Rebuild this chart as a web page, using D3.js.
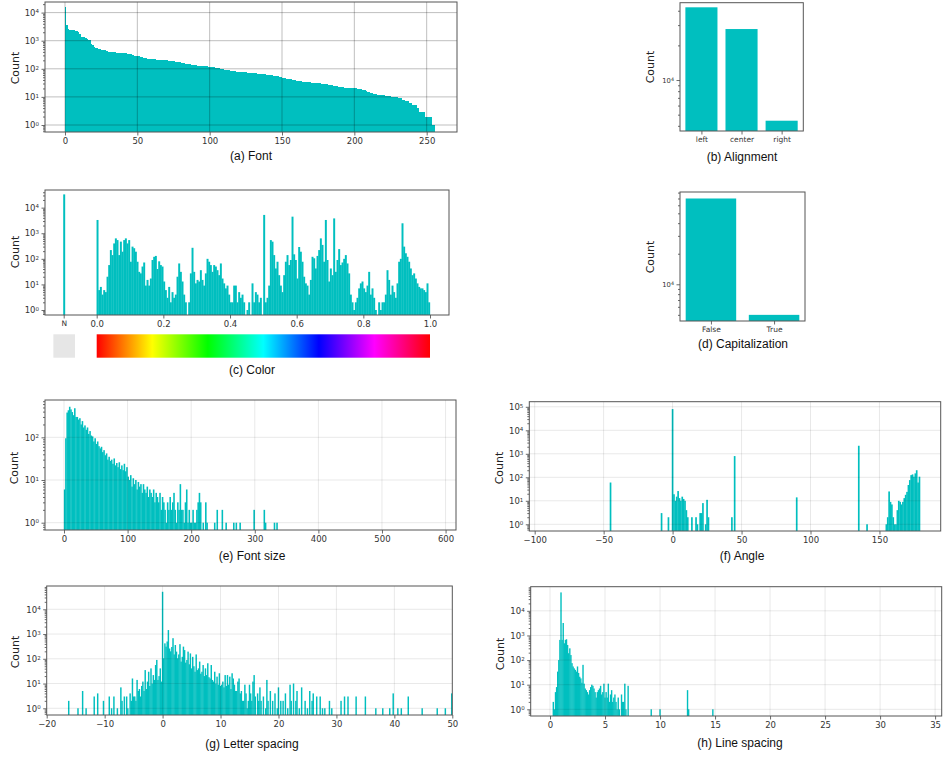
<!DOCTYPE html>
<html><head><meta charset="utf-8">
<script src="https://cdn.jsdelivr.net/npm/d3@7"></script>
<style>body{margin:0;background:#fff}svg{display:block}</style>
</head><body>
<script>
// ---------------- DATA ----------------
// (a) Font: count per font id (sorted), bin width 1
const fontCounts = [15500,3500,2700,2500,2450,2400,2350,2300,2250,2100,1700,1400,1350,1300,1200,1150,1100,1050,750,680,
600,570,550,520,500,480,470,455,440,420,405,400,395,390,385,378,372,368,365,362,
360,358,355,345,335,325,315,305,295,288,282,275,268,260,250,242,235,230,226,222,
220,218,216,214,212,210,208,205,202,200,198,196,194,190,186,182,178,175,172,170,
166,162,158,154,150,147,144,141,138,135,132,130,128,127,126,125,124,122,121,120,
118,116,114,112,110,108,105,102,99,96,94,92,90,88,86,84,82,81,80,79,
78,77,76,75,74,74,73,73,72,72,71,70,69,68,67,66,65,64,63,62,
61,60,59,58,57,56,55,54,52,50,48,47,46,45,44,43,42,41,40,39,
38,37,37,36,35,35,34,34,33,33,32,32,31,31,30,30,30,29,29,29,
28,28,27,27,26,25,25,24,24,23,23,22,22,21,21,21,21,20,20,20,
20,20,19,19,19,18,18,17,16,15,15,14,14,13,13,13,12,12,12,12,
12,11,11,11,11,10,10,10,10,10,9,9,9,8,8,7,7,7,6,6,
5,5,5,4,4,3,3,3,3,2,2,2,2,2,1,1];
const fontTicks = [0,50,100,150,200,250];

// (b) Alignment
const alignCats = ["left","center","right"];
const alignCounts = [42850, 27740, 4430];

// (d) Capitalization
const capCats = ["False","True"];
const capCounts = [70000, 5000];

// (c) Color (hue), bin width 0.005 from 0 to 1, plus the "N" (no colour) bin
const colorNullCount = 33000;
const colorNullPos = -0.0975;
const colorBinWidth = 0.005;
const colorCounts = [3300,6,8,4,6,5,20,57,220,140,400,630,540,140,470,190,540,630,400,540,
77,300,260,190,77,31,27,50,72,9,15,9,17,90,120,130,40,80,57,50,
13,6,3,8,2,5,3,4,20,66,31,13,4,2,0,2,27,270,31,11,
15,13,36,15,9,27,100,77,57,31,57,50,36,23,66,17,11,7,9,4,
2,2,9,9,2,5,3,4,2,0,1,2,0,11,2,5,4,2,3,0,
5200,2,3,9,540,470,140,42,77,23,9,5,23,77,140,57,90,4450,150,90,
17,290,190,77,20,11,9,4,15,120,105,42,130,220,630,350,77,3300,90,13,
42,23,3800,31,90,240,57,72,100,140,66,27,4,2,1,2,3,7,11,13,
7,5,9,31,4,7,3,1,0,2,1,2,2,4,36,15,4,9,5,3,
11,77,100,2450,300,165,120,77,42,23,27,17,11,8,7,7,6,5,11,2];
const colorTicks = [0,0.2,0.4,0.6,0.8,1.0];

// (e) Font size, bin width 2 from 0, plus sparse outliers [value, count]
const fontSizeBinWidth = 2;
const fontSizeCounts = [6,95,380,430,520,450,390,330,480,300,
300,260,280,200,240,170,190,150,170,120,
140,110,105,80,95,70,80,62,55,60,
45,50,38,42,30,35,28,30,24,32,
22,25,20,26,18,22,17,24,16,20,
12,10,13,7,11,8,10,6,9,7,
8,5,8,6,5,7,4,6,5,4,
6,3,5,4,3,5,2,4,3,2,
1,3,2,4,2,3,5,2,1,3,
2,8,2,2,1,3,6,1,2,1,
1,2,1,1,2,3,5,3,0,1,
0,3,1];
const fontSizeOutliers = [[236,1],[240,2],[248,2],[254,1],[266,1],[270,1],[276,1],[298,2],[314,2],[316,1],[330,1],[334,1]];
const fontSizeTicks = [0,100,200,300,400,500,600];

// (f) Angle, bin width 1, sparse [angle, count]
const angleBins = [[-45,60],[-8,3],[-3,2],[0,80000],[1,19],[2,10],[3,15],[4,26],[5,13],[6,10],[7,15],[8,12],[9,10],[10,4],[11,2],
[14,2],[17,2],[18,1],[20,3],[21,3],[22,8],[24,1],[25,11],[26,2],[43,2],[45,800],[90,14],[135,2200],[141,1],
[155,1],[156,2],[157,25],[158,9],[159,7],[160,2],[161,1],[162,1],[163,4],[164,10],[165,9],[166,7],[167,9],[168,13],
[169,18],[170,24],[171,47],[172,76],[173,124],[174,133],[175,106],[176,147],[177,200],[178,60],[179,106]];
const angleTicks = [-100,-50,0,50,100,150];

// (g) Letter spacing, bin width 0.2; dense core from -3.6 plus sparse tails
const letterBinWidth = 0.2;
const letterCoreStart = -3.6;
const letterCore = [8,12,5,35,6,12,30,8,41,10,22,14,56,90,14,20,41,12,
51000,
105,420,310,500,1450,260,200,300,680,150,
360,195,105,150,390,77,120,310,225,70,
90,195,60,165,41,120,50,30,150,35,
41,77,25,30,56,20,41,22,66,18,
16,56,14,12,30,10,19,9,26,8,
9,12,7,22,8,22,9,19,6,26,
16,9,5,5,12,16,4,5,2,2,
9,4,1,2,9,4,2,12,22,3];
const letterTails = [[-16.2,2],[-14.6,1],[-13.8,5],[-13.2,1],[-11.8,3],[-11.2,4],[-10.2,2],[-9.2,3],[-8.8,1],[-8.4,3],[-7.8,1],
[-7.2,7],[-7.0,2],[-6.6,3],[-6.2,3],[-6.0,1],[-5.6,4],[-5.4,2],[-5.2,16],[-5.0,3],[-4.8,3],[-4.6,2],[-4.4,14],[-4.2,5],[-4.0,6],[-3.8,3],
[16.4,4],[16.6,2],[16.8,7],[17.0,2],[17.4,3],[17.8,1],[18.0,14],[18.2,2],[18.6,5],[19.0,2],[19.4,4],[19.8,1],[20.0,7],[20.4,2],
[20.8,2],[21.2,4],[21.6,1],[22.0,9],[22.2,2],[22.6,10],[23.0,2],[23.2,5],[23.6,1],[24.0,7],[24.6,2],[25.0,1],[25.4,5],[25.8,2],
[26.0,4],[26.6,3],[27.2,3],[27.6,1],[28.0,1],[28.8,2],[29.2,1],[30.8,2],[31.4,3],[32.0,3],[33.4,3],[35.0,3],[36.8,1],[38.0,1],
[39.2,1],[39.8,4],[40.6,1],[41.2,1],[42.4,3],[44.8,1],[47.4,1],[48.8,1],[49.9,4]];
const letterTicks = [-20,-10,0,10,20,30,40,50];

// (h) Line spacing, bin width 0.1; dense core from 0.2 plus sparse outliers
const lineBinWidth = 0.1;
const lineCoreStart = 0.2;
const lineCore = [0,2,1,5,8,34,100,660,56000,660,
3200,480,660,700,410,190,300,160,75,55,
46,40,34,55,30,21,18,12,64,11,
7,6,5,4,6,8,10,9,7,5,
3,5,6,7,9,4,5,11,3,5,
3,11,2,4,6,2,3,4,2,1,
3,1,0,4,2,2,11,1,0,9];
const lineOutliers = [[9.2,1],[10.0,1],[12.5,6],[12.6,1],[14.8,1]];
const lineTicks = [0,5,10,15,20,25,30,35];

// ---------------- DRAWING ----------------
const BAR = "#00bfbf";
const svg = d3.select("body").append("svg").attr("width",952).attr("height",757);
const defs = svg.append("defs");
let clipN = 0;

function styleAxis(sel, fs, color) {
  sel.select(".domain").remove();
  sel.selectAll(".tick line").attr("stroke","#444").attr("stroke-width",0.8);
  sel.selectAll(".tick text").attr("font-family","DejaVu Sans").attr("font-size",fs).attr("fill",color||"#333");
}

function logYAxis(g, y, left, fs, sup) {
  const [d0,d1] = y.domain();
  const majors=[], minors=[];
  for (let e=Math.floor(Math.log10(d0))-1; e<=Math.ceil(Math.log10(d1)); e++) {
    const v = Math.pow(10,e);
    if (v>=d0 && v<=d1) majors.push(v);
    for (let m=2;m<=9;m++){ const mv=m*v; if (mv>=d0 && mv<=d1) minors.push(mv); }
  }
  g.append("g").attr("transform",`translate(${left},0)`)
    .call(d3.axisLeft(y).tickValues(minors).tickSize(2).tickFormat(()=>""))
    .call(s=>styleAxis(s,fs));
  const ma = g.append("g").attr("transform",`translate(${left},0)`)
    .call(d3.axisLeft(y).tickValues(majors).tickSize(3.5).tickPadding(2.5).tickFormat(()=>""))
    .call(s=>styleAxis(s,fs));
  ma.selectAll(".tick text").each(function(d){
    const t=d3.select(this); t.text(null);
    t.append("tspan").text("10");
    t.append("tspan").attr("dy","-0.45em").attr("font-size",sup).text(Math.round(Math.log10(d)));
  });
  return majors;
}

function countLabel(x,y){
  svg.append("text").attr("transform",`translate(${x},${y}) rotate(-90)`)
    .attr("text-anchor","middle").attr("dominant-baseline","central")
    .attr("font-family","DejaVu Sans").attr("font-size",11).attr("fill","#222").text("Count");
}
function title(x,y,s){
  svg.append("text").attr("x",x).attr("y",y).attr("text-anchor","middle").attr("dominant-baseline","central")
    .attr("font-family","Liberation Sans, Arial, sans-serif").attr("font-size",12).attr("fill","#111").text(s);
}

function histPanel(o){
  const g = svg.append("g");
  const x = d3.scaleLinear().domain(o.xDomain).range([o.left,o.right]);
  const y = d3.scaleLog().domain(o.yDomain).range([o.bottom,o.top]);
  const id = "clip"+(clipN++);
  defs.append("clipPath").attr("id",id).append("rect")
    .attr("x",o.left).attr("y",o.top).attr("width",o.right-o.left).attr("height",o.bottom-o.top);
  const extra = o.solid ? 0 : 0.3;
  g.append("g").attr("clip-path",`url(#${id})`)
    .attr("shape-rendering", o.solid ? "crispEdges" : "auto")
    .selectAll("rect")
    .data(o.bars.filter(d=>d.v>0)).join("rect")
    .attr("x",d=>x(d.a)-extra/2).attr("width",d=>Math.max(0.01,x(d.b)-x(d.a)+extra))
    .attr("y",d=>y(d.v)).attr("height",d=>Math.max(0,o.bottom+2-y(d.v)))
    .attr("fill",BAR);
  // axes
  g.append("g").attr("transform",`translate(0,${o.bottom})`)
    .call(d3.axisBottom(x).tickValues(o.xTicks).tickSize(3.5).tickPadding(2.5).tickFormat(o.xFmt||d3.format("d")))
    .call(s=>styleAxis(s,8.5));
  const majors = logYAxis(g,y,o.left,8.5,5.5);
  // grid
  if (o.grid) {
    const gg = g.append("g").attr("stroke","#000").attr("stroke-opacity",o.grid).attr("stroke-width",1);
    o.xTicks.filter(v=>x(v)>o.left+0.5 && x(v)<o.right-0.5).forEach(v=>
      gg.append("line").attr("x1",x(v)).attr("x2",x(v)).attr("y1",o.top).attr("y2",o.bottom));
    majors.forEach(v=>gg.append("line").attr("x1",o.left).attr("x2",o.right).attr("y1",y(v)).attr("y2",y(v)));
  }
  g.append("rect").attr("x",o.left).attr("y",o.top).attr("width",o.right-o.left).attr("height",o.bottom-o.top)
    .attr("fill","none").attr("stroke","#555").attr("stroke-width",1);
  countLabel(o.countX,o.countY);
  title(o.titleX,o.titleY,o.title);
  return {x,y,g};
}

function catPanel(o){
  const g = svg.append("g");
  const n = o.cats.length;
  const x = d3.scaleLinear().domain(o.xDomain).range([o.left,o.right]);
  const y = d3.scaleLog().domain(o.yDomain).range([o.bottom,o.top]);
  const id = "clip"+(clipN++);
  defs.append("clipPath").attr("id",id).append("rect")
    .attr("x",o.left).attr("y",o.top).attr("width",o.right-o.left).attr("height",o.bottom-o.top);
  g.append("g").attr("clip-path",`url(#${id})`).selectAll("rect")
    .data(o.counts).join("rect")
    .attr("x",(d,i)=>x(i-0.4)).attr("width",(d,i)=>x(i+0.4)-x(i-0.4))
    .attr("y",d=>y(d)).attr("height",d=>o.bottom+2-y(d)).attr("fill",BAR);
  g.append("g").attr("transform",`translate(0,${o.bottom})`)
    .call(d3.axisBottom(x).tickValues(d3.range(n)).tickSize(3.5).tickPadding(2.5).tickFormat(i=>o.cats[i]))
    .call(s=>styleAxis(s,7.5));
  logYAxis(g,y,o.left,6.8,4.8);
  g.append("rect").attr("x",o.left).attr("y",o.top).attr("width",o.right-o.left).attr("height",o.bottom-o.top)
    .attr("fill","none").attr("stroke","#555").attr("stroke-width",1);
  countLabel(o.countX,o.countY);
  title(o.titleX,o.titleY,o.title);
}

// (a) Font
histPanel({left:45,right:457,top:2,bottom:132,solid:true,
  xDomain:[-13.82,270.96], yDomain:[Math.pow(10,-0.249),Math.pow(10,4.377)],
  bars: fontCounts.map((v,i)=>({a:i,b:i+1,v})), xTicks:fontTicks, grid:0.25,
  countX:15,countY:68,title:"(a) Font",titleX:251,titleY:156});

// (b) Alignment
catPanel({left:680,right:803.3,top:2.7,bottom:131,xDomain:[-0.534,2.54],
  yDomain:[Math.pow(10,3.557),Math.pow(10,4.672)],cats:alignCats,counts:alignCounts,
  countX:650,countY:67,title:"(b) Alignment",titleX:742,titleY:157});

// (c) Color
const colorBars = colorCounts.map((v,i)=>({a:i*colorBinWidth,b:(i+1)*colorBinWidth,v}));
colorBars.push({a:colorNullPos-colorBinWidth/2,b:colorNullPos+colorBinWidth/2,v:colorNullCount});
const pc = histPanel({left:45,right:449,top:190,bottom:315,
  xDomain:[-0.1551,1.057], yDomain:[Math.pow(10,-0.195),Math.pow(10,4.69)],
  bars: colorBars, xTicks:colorTicks, xFmt:d3.format(".1f"), grid:0,
  countX:15,countY:252,title:"(c) Color",titleX:252,titleY:370});
// "N" tick
pc.g.append("line").attr("x1",pc.x(colorNullPos)).attr("x2",pc.x(colorNullPos)).attr("y1",315).attr("y2",318.5)
  .attr("stroke","#444").attr("stroke-width",0.8);
pc.g.append("text").attr("x",pc.x(colorNullPos)).attr("y",315+6).attr("dy","0.71em").attr("text-anchor","middle")
  .attr("font-family","DejaVu Sans").attr("font-size",7.5).attr("fill","#333").text("N");
// colour bar
const grad = defs.append("linearGradient").attr("id","hue").attr("x1","0%").attr("x2","100%");
d3.range(0,13).forEach(k=>grad.append("stop").attr("offset",(k/12*100)+"%").attr("stop-color",d3.hsl(k*30,1,0.5).formatHex()));
svg.append("rect").attr("x",pc.x(0)).attr("width",pc.x(1)-pc.x(0)).attr("y",334.3).attr("height",23.4).attr("fill","url(#hue)");
svg.append("rect").attr("x",pc.x(colorNullPos-0.0325)).attr("width",pc.x(colorNullPos+0.0325)-pc.x(colorNullPos-0.0325))
  .attr("y",334.3).attr("height",23.4).attr("fill","#e6e6e6");

// (d) Capitalization
catPanel({left:680,right:805,top:192,bottom:321,xDomain:[-0.49,1.49],
  yDomain:[4350,81100],cats:capCats,counts:capCounts,
  countX:650,countY:257,title:"(d) Capitalization",titleX:743,titleY:344});

// (e) Font size
const fsBars = fontSizeCounts.map((v,i)=>({a:i*fontSizeBinWidth,b:(i+1)*fontSizeBinWidth,v}))
  .concat(fontSizeOutliers.map(([a,v])=>({a,b:a+fontSizeBinWidth,v})));
histPanel({left:45,right:456,top:400,bottom:530,
  xDomain:[-29.87,616.4], yDomain:[Math.pow(10,-0.171),Math.pow(10,2.874)],
  bars: fsBars, xTicks:fontSizeTicks, grid:0.09,
  countX:14,countY:468,title:"(e) Font size",titleX:252,titleY:556});

// (f) Angle
histPanel({left:529.3,right:940.7,top:401.7,bottom:531,
  xDomain:[-103.9,194.4], yDomain:[Math.pow(10,-0.285),Math.pow(10,5.217)],
  bars: angleBins.map(([c,v])=>({a:c-0.5,b:c+0.5,v})), xTicks:angleTicks, grid:0.09,
  countX:499,countY:468,title:"(f) Angle",titleX:742,titleY:556});

// (g) Letter spacing
const lsBars = letterCore.map((v,i)=>{const c=letterCoreStart+i*letterBinWidth; return {a:c-letterBinWidth/2,b:c+letterBinWidth/2,v};})
  .concat(letterTails.map(([c,v])=>({a:c-letterBinWidth/2,b:c+letterBinWidth/2,v})));
histPanel({left:46.7,right:452.3,top:586,bottom:715,
  xDomain:[-20,50], yDomain:[Math.pow(10,-0.271),Math.pow(10,4.941)],
  bars: lsBars, xTicks:letterTicks, grid:0.09,
  countX:15,countY:652,title:"(g) Letter spacing",titleX:252,titleY:744});

// (h) Line spacing
const lnBars = lineCore.map((v,i)=>{const c=lineCoreStart+i*lineBinWidth; return {a:c-lineBinWidth/2,b:c+lineBinWidth/2,v};})
  .concat(lineOutliers.map(([c,v])=>({a:c-lineBinWidth/2,b:c+lineBinWidth/2,v})));
histPanel({left:530.7,right:941.7,top:586.7,bottom:716,
  xDomain:[-1.755,35.6], yDomain:[Math.pow(10,-0.272),Math.pow(10,4.98)],
  bars: lnBars, xTicks:lineTicks, grid:0.09,
  countX:500,countY:654,title:"(h) Line spacing",titleX:740,titleY:743});
</script>
</body></html>
